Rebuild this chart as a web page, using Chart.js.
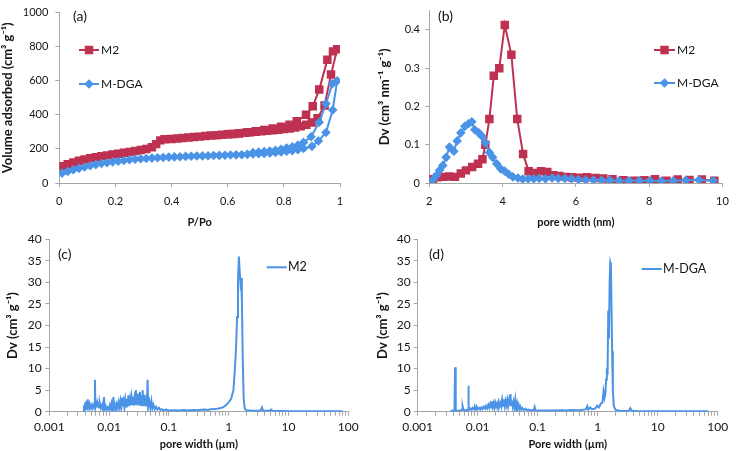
<!DOCTYPE html>
<html><head><meta charset="utf-8">
<script src="https://cdn.jsdelivr.net/npm/chart.js@4/dist/chart.umd.min.js"></script>
<style>
html,body{margin:0;padding:0;background:#fff;}
body{width:738px;height:451px;position:relative;overflow:hidden;}
canvas{position:absolute;}
</style></head><body>
<canvas id="ca"></canvas><canvas id="cb"></canvas><canvas id="cc"></canvas><canvas id="cd"></canvas>
<script>
// ---------- DATA ----------
// (a) N2 isotherms: adsorption then desorption branch
const aP_M2 = [0.01,0.03,0.05,0.07,0.09,0.11,0.13,0.15,0.17,0.19,
  0.21,0.23,0.25,0.27,0.29,0.31,0.33,0.345,0.36,0.375,
  0.40,0.42,0.44,0.46,0.48,0.50,0.52,0.54,0.56,0.58,
  0.60,0.62,0.64,0.66,0.68,0.70,0.72,0.74,0.76,0.78,
  0.80,0.82,0.84,0.86,0.88,0.90,0.92,0.945,0.968,0.99,
  0.975,0.955,0.926,0.903,0.879,0.846,0.82,0.79,0.76,0.73,
  0.70,0.67,0.64,0.61];
const aV_M2 = [98,110,120,130,138,145,151,157,162,167,
  172,177,182,187,193,200,210,228,250,256,
  258,261,264,267,270,272,275,278,280,283,
  286,288,291,294,297,300,303,306,309,312,
  316,320,326,333,342,355,380,455,636,785,
  772,723,548,450,400,362,342,330,320,311,
  304,297,292,287];
const aP_MDGA = [0.01,0.03,0.05,0.07,0.09,0.11,0.13,0.15,0.17,0.19,
  0.21,0.23,0.25,0.27,0.29,0.31,0.33,0.35,0.37,0.39,
  0.41,0.43,0.45,0.47,0.49,0.51,0.53,0.55,0.57,0.59,
  0.61,0.63,0.65,0.67,0.69,0.71,0.73,0.75,0.77,0.79,
  0.81,0.83,0.85,0.87,0.90,0.923,0.95,0.974,0.99,
  0.973,0.95,0.926,0.897,0.87,0.85,0.83,0.81,0.79,0.77,
  0.75,0.73,0.71,0.69];
const aV_MDGA = [58,68,78,86,94,101,108,114,119,124,
  128,132,136,139,142,144,146,148,150,152,
  153,154,156,157,158,159,160,161,162,163,
  164,165,166,168,170,172,174,176,179,182,
  186,190,195,202,215,247,296,428,600,
  582,465,356,271,238,222,212,205,198,192,
  188,184,181,178];

// (b) BJH pore size distribution (nm)
const bW_M2 = [2.0,2.1,2.22,2.38,2.54,2.7,2.86,3.0,3.17,3.33,
  3.45,3.53,3.64,3.76,3.91,4.06,4.24,4.4,4.56,4.71,
  4.88,5.05,5.22,5.38,5.55,5.72,5.9,6.1,6.3,6.53,
  6.75,7.0,7.3,7.6,7.87,8.16,8.47,8.78,9.1,9.44,9.78];
const bDv_M2 = [0.002,0.01,0.015,0.016,0.017,0.016,0.025,0.033,0.042,0.05,
  0.062,0.1,0.167,0.28,0.30,0.413,0.335,0.167,0.076,0.031,
  0.026,0.031,0.029,0.02,0.018,0.016,0.015,0.014,0.015,0.013,
  0.012,0.01,0.007,0.006,0.007,0.01,0.006,0.009,0.008,0.009,0.006];
const bW_MDGA = [2.0,2.1,2.2,2.28,2.37,2.46,2.55,2.67,2.76,2.86,
  2.97,3.07,3.16,3.24,3.35,3.44,3.53,3.64,3.73,3.84,
  3.95,4.06,4.17,4.28,4.42,4.55,4.7,4.85,5.0,5.17,
  5.35,5.52,5.7,5.88,6.07,6.27,6.48,6.7,6.93,7.18,
  7.45,7.73,8.02,8.33,8.66,9.0,9.36,9.75];
const bDv_MDGA = [0.0,0.008,0.02,0.033,0.046,0.067,0.094,0.083,0.11,0.131,
  0.148,0.155,0.16,0.139,0.131,0.122,0.105,0.08,0.067,0.05,
  0.037,0.031,0.023,0.016,0.013,0.01,0.011,0.011,0.012,0.011,
  0.013,0.012,0.012,0.011,0.009,0.008,0.008,0.007,0.007,0.006,
  0.006,0.006,0.006,0.005,0.006,0.007,0.008,0.006];

// (c) Hg porosimetry M2 (µm)
const cW = [0.0037,0.0038,0.0039,0.0040,0.0041,0.0042,0.0043,0.0044,0.0045,0.0047,
  0.0048,0.0050,0.0052,0.0054,0.0056,0.0058,0.0059,0.0061,0.0063,0.0065,
  0.0068,0.0070,0.0073,0.0076,0.0079,0.0082,0.0085,0.0088,0.0091,0.0095,
  0.0099,0.0103,0.0107,0.0110,0.0114,0.0118,0.0122,0.0126,0.0130,0.0135,
  0.0140,0.0145,0.0150,0.0155,0.0160,0.0165,0.0170,0.0175,0.0180,0.0186,
  0.0192,0.0198,0.0204,0.0210,0.0217,0.0224,0.0230,0.0237,0.0244,0.0251,
  0.0258,0.0265,0.0272,0.0280,0.0288,0.0296,0.0304,0.0312,0.0320,0.0328,
  0.0337,0.0346,0.0355,0.0364,0.0373,0.0382,0.0391,0.0400,0.0410,0.0420,
  0.0430,0.0440,0.0450,0.0470,0.0490,0.0510,0.0530,0.0550,0.0580,0.0610,
  0.0640,0.0680,0.0720,0.0760,0.0800,0.090,0.10,0.12,0.15,0.18,
  0.20,0.25,0.30,0.35,0.40,0.45,0.50,0.60,0.70,0.80,
  0.90,1.00,1.10,1.20,1.27,1.33,1.38,1.43,1.48,1.52,
  1.57,1.61,1.66,1.72,1.78,1.85,1.95,2.2,2.6,3.0,
  3.4,3.6,3.75,4.2,4.8,5.1,5.4,6,8,10,
  15,20,30,50,80];
const cDv = [0,1.5,0.3,2.2,0.5,2.5,0.6,2.9,1.0,1.8,
  0.8,1.5,0.7,1.6,0.8,7.4,1.0,2.0,1.2,1.9,
  1.0,2.0,0.8,1.5,0.6,3.4,0.7,1.2,0.4,1.0,
  0.5,1.5,0.6,1.8,0.7,3.4,0.8,1.5,0.6,1.8,
  0.9,2.2,1.0,2.5,1.2,3.3,1.3,2.4,1.0,2.8,
  1.2,3.0,1.4,3.8,1.3,2.9,1.5,3.3,1.6,3.5,
  1.4,3.0,1.8,5.0,1.5,4.2,1.7,3.6,1.6,4.6,
  1.8,3.8,1.5,5.0,1.7,3.9,1.4,3.2,1.2,4.0,
  1.3,7.4,1.0,2.4,0.9,2.5,0.8,1.6,0.6,1.1,
  0.5,0.9,0.4,0.6,0.35,0.5,0.3,0.35,0.3,0.4,
  0.3,0.4,0.35,0.45,0.5,0.4,0.55,0.6,0.8,1.0,
  1.5,2.2,3.0,5.0,10,15,22,30,36,33,
  30,31,26,12,3,0.8,0.3,0.25,0.2,0.2,
  0.25,1.0,0.25,0.2,0.2,0.5,0.2,0.15,0.15,0.12,
  0.1,0.1,0.1,0.1,0.1];

// (d) Hg porosimetry M-DGA (µm)
const dW = [0.0035,0.0038,0.0041,0.0042,0.0043,0.0047,0.0052,0.0055,0.0056,0.0058,
  0.0062,0.0066,0.0069,0.0070,0.0071,0.0075,0.0079,0.0083,0.0087,0.0090,
  0.0093,0.0096,0.0100,0.0105,0.0110,0.0115,0.0120,0.0127,0.0133,0.0138,
  0.0144,0.0150,0.0156,0.0162,0.0168,0.0172,0.0178,0.0184,0.0190,0.0196,
  0.0203,0.0210,0.0217,0.0224,0.0232,0.0240,0.0248,0.0256,0.0265,0.0274,
  0.0283,0.0292,0.0302,0.0312,0.0322,0.0333,0.0344,0.0352,0.0360,0.0372,
  0.0384,0.0396,0.0410,0.0424,0.0438,0.0452,0.0466,0.0480,0.0496,0.0512,
  0.0530,0.0550,0.0580,0.0620,0.0660,0.0700,0.0750,0.0800,0.0860,0.0890,
  0.0920,0.10,0.12,0.15,0.20,0.25,0.30,0.38,0.45,0.52,
  0.60,0.64,0.67,0.70,0.75,0.80,0.88,0.95,0.98,1.05,
  1.12,1.20,1.25,1.30,1.34,1.38,1.42,1.46,1.50,1.54,
  1.58,1.62,1.66,1.70,1.74,1.79,1.85,1.92,2.0,2.3,
  2.8,3.3,3.5,3.7,4.5,6,10,20,40,70];
const dDv = [0.1,0.2,0.2,10.3,0.3,0.2,0.3,0.5,1.3,0.4,
  0.3,0.4,0.5,6.0,0.4,0.8,0.4,0.9,0.5,1.0,
  0.5,1.2,0.6,0.9,0.5,1.0,0.6,1.2,0.7,1.3,
  0.8,1.6,0.9,1.8,1.0,2.4,1.1,2.0,1.0,2.1,
  1.2,1.9,1.0,2.2,1.3,2.0,1.2,2.8,1.4,2.9,
  1.3,2.5,1.5,2.7,1.3,2.6,1.4,4.1,1.5,2.6,
  1.2,2.3,1.0,2.8,0.9,1.9,0.8,1.6,0.7,1.2,
  0.5,0.9,0.4,0.7,0.3,0.5,0.3,0.4,0.3,1.1,
  0.3,0.25,0.3,0.25,0.3,0.35,0.3,0.4,0.35,0.4,
  0.5,0.6,1.3,0.5,1.0,0.6,0.7,1.0,1.4,1.0,
  1.8,2.2,4.7,3.2,4.0,7.5,10.0,8.5,23.5,17,
  30,34.6,34.0,24,14,5,1.5,0.8,0.4,0.2,
  0.15,0.2,0.8,0.2,0.15,0.12,0.1,0.1,0.1,0.1];

// tick values / labels
const aXTicks = [0,0.2,0.4,0.6,0.8,1];
const aXLabels = ['0','0.2','0.4','0.6','0.8','1'];
const aYTicks = [0,200,400,600,800,1000];
const aYLabels = ['0','200','400','600','800','1000'];
const bXTicks = [2,4,6,8,10];
const bXLabels = ['2','4','6','8','10'];
const bYTicks = [0,0.1,0.2,0.3,0.4];
const bYLabels = ['0','0.1','0.2','0.3','0.4'];
const logMajor = [0.001,0.01,0.1,1,10,100];
const logLabels = ['0.001','0.01','0.1','1','10','100'];
const cdYTicks = [0,5,10,15,20,25,30,35,40];
const cdYLabels = ['0','5','10','15','20','25','30','35','40'];

// ---------- STYLE ----------
const RED = '#be3150', BLUE = '#4a93e6', AX = '#a6a6a6', TXT = '#141414';
Chart.defaults.font.family = "Lato, 'Open Sans', sans-serif";

const logAll = [];
for (let e = 0; e < logMajor.length; e++) {
  logAll.push(logMajor[e]);
  if (e < logMajor.length - 1) for (let m = 2; m <= 9; m++) logAll.push(+(logMajor[e] * m).toPrecision(3));
}

function xy(xs, ys) { return xs.map((x, i) => ({x: x, y: ys[i]})); }

const overlay = {
  id: 'overlay',
  afterDraw(chart, args, o) {
    const ctx = chart.ctx;
    ctx.save();
    ctx.textBaseline = 'middle'; ctx.textAlign = 'left';
    ctx.fillStyle = TXT;
    ctx.font = o.labelSize + "px Lato";
    ctx.fillText(o.label.text, o.label.x, o.label.y);
    o.legend.forEach(it => {
      const ds = chart.data.datasets[it.ds];
      ctx.strokeStyle = ds.borderColor; ctx.lineWidth = ds.borderWidth;
      ctx.beginPath(); ctx.moveTo(it.x, it.y); ctx.lineTo(it.x + it.len, it.y); ctx.stroke();
      const r = ds.pointRadius || 0, cx = it.x + it.len / 2;
      if (r > 0) {
        ctx.fillStyle = ds.pointBackgroundColor;
        ctx.beginPath();
        if (ds.pointStyle === 'rect') { const s = r * Math.SQRT1_2; ctx.rect(cx - s, it.y - s, 2 * s, 2 * s); }
        else { ctx.moveTo(cx - r, it.y); ctx.lineTo(cx, it.y - r); ctx.lineTo(cx + r, it.y); ctx.lineTo(cx, it.y + r); ctx.closePath(); }
        ctx.fill();
      }
      ctx.fillStyle = TXT;
      ctx.font = o.legendSize + "px Lato";
      ctx.fillText(ds.label, it.tx, it.y);
    });
    ctx.restore();
  }
};

function axis(o) {
  const vertical = o.pos === 'left';
  return {
    type: o.type || 'linear', position: o.pos, min: o.min, max: o.max,
    border: {display: true, color: AX, width: 1},
    grid: {display: true, drawOnChartArea: false, drawTicks: true, tickLength: 4, color: AX, lineWidth: 1},
    ticks: {autoSkip: false, maxRotation: 0, minRotation: 0, padding: o.pad, color: TXT,
      font: {size: o.fs, lineHeight: 1},
      callback: (v) => { const k = o.major.indexOf(v); return k >= 0 ? o.labels[k] : ''; }},
    afterBuildTicks: (s) => { s.ticks = (o.all || o.major).map(v => ({value: v})); },
    afterFit: (s) => { if (vertical) s.width = o.size; else s.height = o.size; },
    title: {display: true, text: o.title, color: TXT,
      font: {size: o.ts, weight: 'bold', lineHeight: 1.2},
      padding: vertical ? {top: o.tp, bottom: 0} : {top: 0, bottom: o.tp}}
  };
}

function panel(id, box, area, datasets, xo, yo, ov) {
  const cv = document.getElementById(id);
  cv.width = box.w; cv.height = box.h;
  cv.style.left = box.l + 'px'; cv.style.top = box.t + 'px';
  cv.style.width = box.w + 'px'; cv.style.height = box.h + 'px';
  xo.pos = 'bottom'; xo.size = box.t + box.h - area.b;
  yo.pos = 'left'; yo.size = area.l - box.l;
  return new Chart(cv, {
    type: 'scatter',
    data: {datasets: datasets},
    options: {
      responsive: false, maintainAspectRatio: false, devicePixelRatio: 1, animation: false,
      layout: {padding: {left: 0, top: area.t - box.t, right: box.l + box.w - area.r, bottom: 0}},
      plugins: {legend: {display: false}, tooltip: {enabled: false}, overlay: ov},
      scales: {x: axis(xo), y: axis(yo)}
    },
    plugins: [overlay]
  });
}

function markerSet(label, xs, ys, color, style, r, order) {
  return {label: label, data: xy(xs, ys), showLine: true, tension: 0,
    borderColor: color, backgroundColor: color, borderWidth: 2,
    pointStyle: style, pointRadius: r, pointBorderWidth: 0, pointBackgroundColor: color,
    pointHoverRadius: r, order: order};
}
function lineSet(label, xs, ys) {
  return {label: label, data: xy(xs, ys), showLine: true, tension: 0,
    borderColor: BLUE, backgroundColor: BLUE, borderWidth: 2, pointRadius: 0, pointHoverRadius: 0};
}

// (a)
panel('ca', {l: 0, t: 0, w: 370, h: 230}, {l: 59.3, t: 6, r: 340, b: 183},
  [markerSet('M2', aP_M2, aV_M2, RED, 'rect', 6, 2),
   markerSet('M-DGA', aP_MDGA, aV_MDGA, BLUE, 'rectRot', 4.8, 1)],
  {min: 0, max: 1, major: aXTicks, labels: aXLabels, fs: 11, pad: 9.2, title: 'P/Po', ts: 11, tp: 1.4},
  {min: 0, max: 1000, major: aYTicks, labels: aYLabels, fs: 11, pad: 7, title: 'Volume adsorbed (cm³ g⁻¹)', ts: 13, tp: 0.2},
  {label: {text: '(a)', x: 73, y: 16.5}, labelSize: 14, legendSize: 12,
   legend: [{ds: 0, x: 79, y: 50, len: 20, tx: 101}, {ds: 1, x: 79, y: 84, len: 20, tx: 101}]});

// (b)
panel('cb', {l: 370, t: 0, w: 368, h: 230}, {l: 429.3, t: 6, r: 729.3, b: 183},
  [markerSet('M2', bW_M2, bDv_M2, RED, 'rect', 6, 2),
   markerSet('M-DGA', bW_MDGA, bDv_MDGA, BLUE, 'rectRot', 4.8, 1)],
  {min: 2, max: 10, major: bXTicks, labels: bXLabels, fs: 11, pad: 9.2, title: 'pore width (nm)', ts: 11, tp: 1.4},
  {min: 0, max: 0.45, major: bYTicks, labels: bYLabels, fs: 11, pad: 5.3, title: 'Dv (cm³ nm⁻¹ g⁻¹)', ts: 13, tp: 7.2},
  {label: {text: '(b)', x: 68, y: 16.5}, labelSize: 14, legendSize: 12,
   legend: [{ds: 0, x: 284, y: 50, len: 21, tx: 307}, {ds: 1, x: 284, y: 83, len: 21, tx: 307}]});

// (c)
panel('cc', {l: 0, t: 225, w: 370, h: 226}, {l: 49.3, t: 239.3, r: 348.3, b: 411.7},
  [lineSet('M2', cW, cDv)],
  {type: 'logarithmic', min: 0.001, max: 100, major: logMajor, all: logAll, labels: logLabels, fs: 12, pad: 5, title: 'pore width (µm)', ts: 11, tp: 0.4},
  {min: 0, max: 40, major: cdYTicks, labels: cdYLabels, fs: 12, pad: 3.6, title: 'Dv (cm³ g⁻¹)', ts: 13, tp: 5.2},
  {label: {text: '(c)', x: 58, y: 29}, labelSize: 14, legendSize: 12.5,
   legend: [{ds: 0, x: 266.7, y: 42.3, len: 20, tx: 288}]});

// (d)
panel('cd', {l: 370, t: 225, w: 368, h: 226}, {l: 417.7, t: 239.3, r: 717.7, b: 411.7},
  [lineSet('M-DGA', dW, dDv)],
  {type: 'logarithmic', min: 0.001, max: 100, major: logMajor, all: logAll, labels: logLabels, fs: 12, pad: 5, title: 'Pore width (µm)', ts: 11, tp: 0.4},
  {min: 0, max: 40, major: cdYTicks, labels: cdYLabels, fs: 12, pad: 3, title: 'Dv (cm³ g⁻¹)', ts: 13, tp: 5.2},
  {label: {text: '(d)', x: 59, y: 29}, labelSize: 14, legendSize: 12.5,
   legend: [{ds: 0, x: 271.7, y: 44, len: 20, tx: 293}]});
</script>
</body></html>
